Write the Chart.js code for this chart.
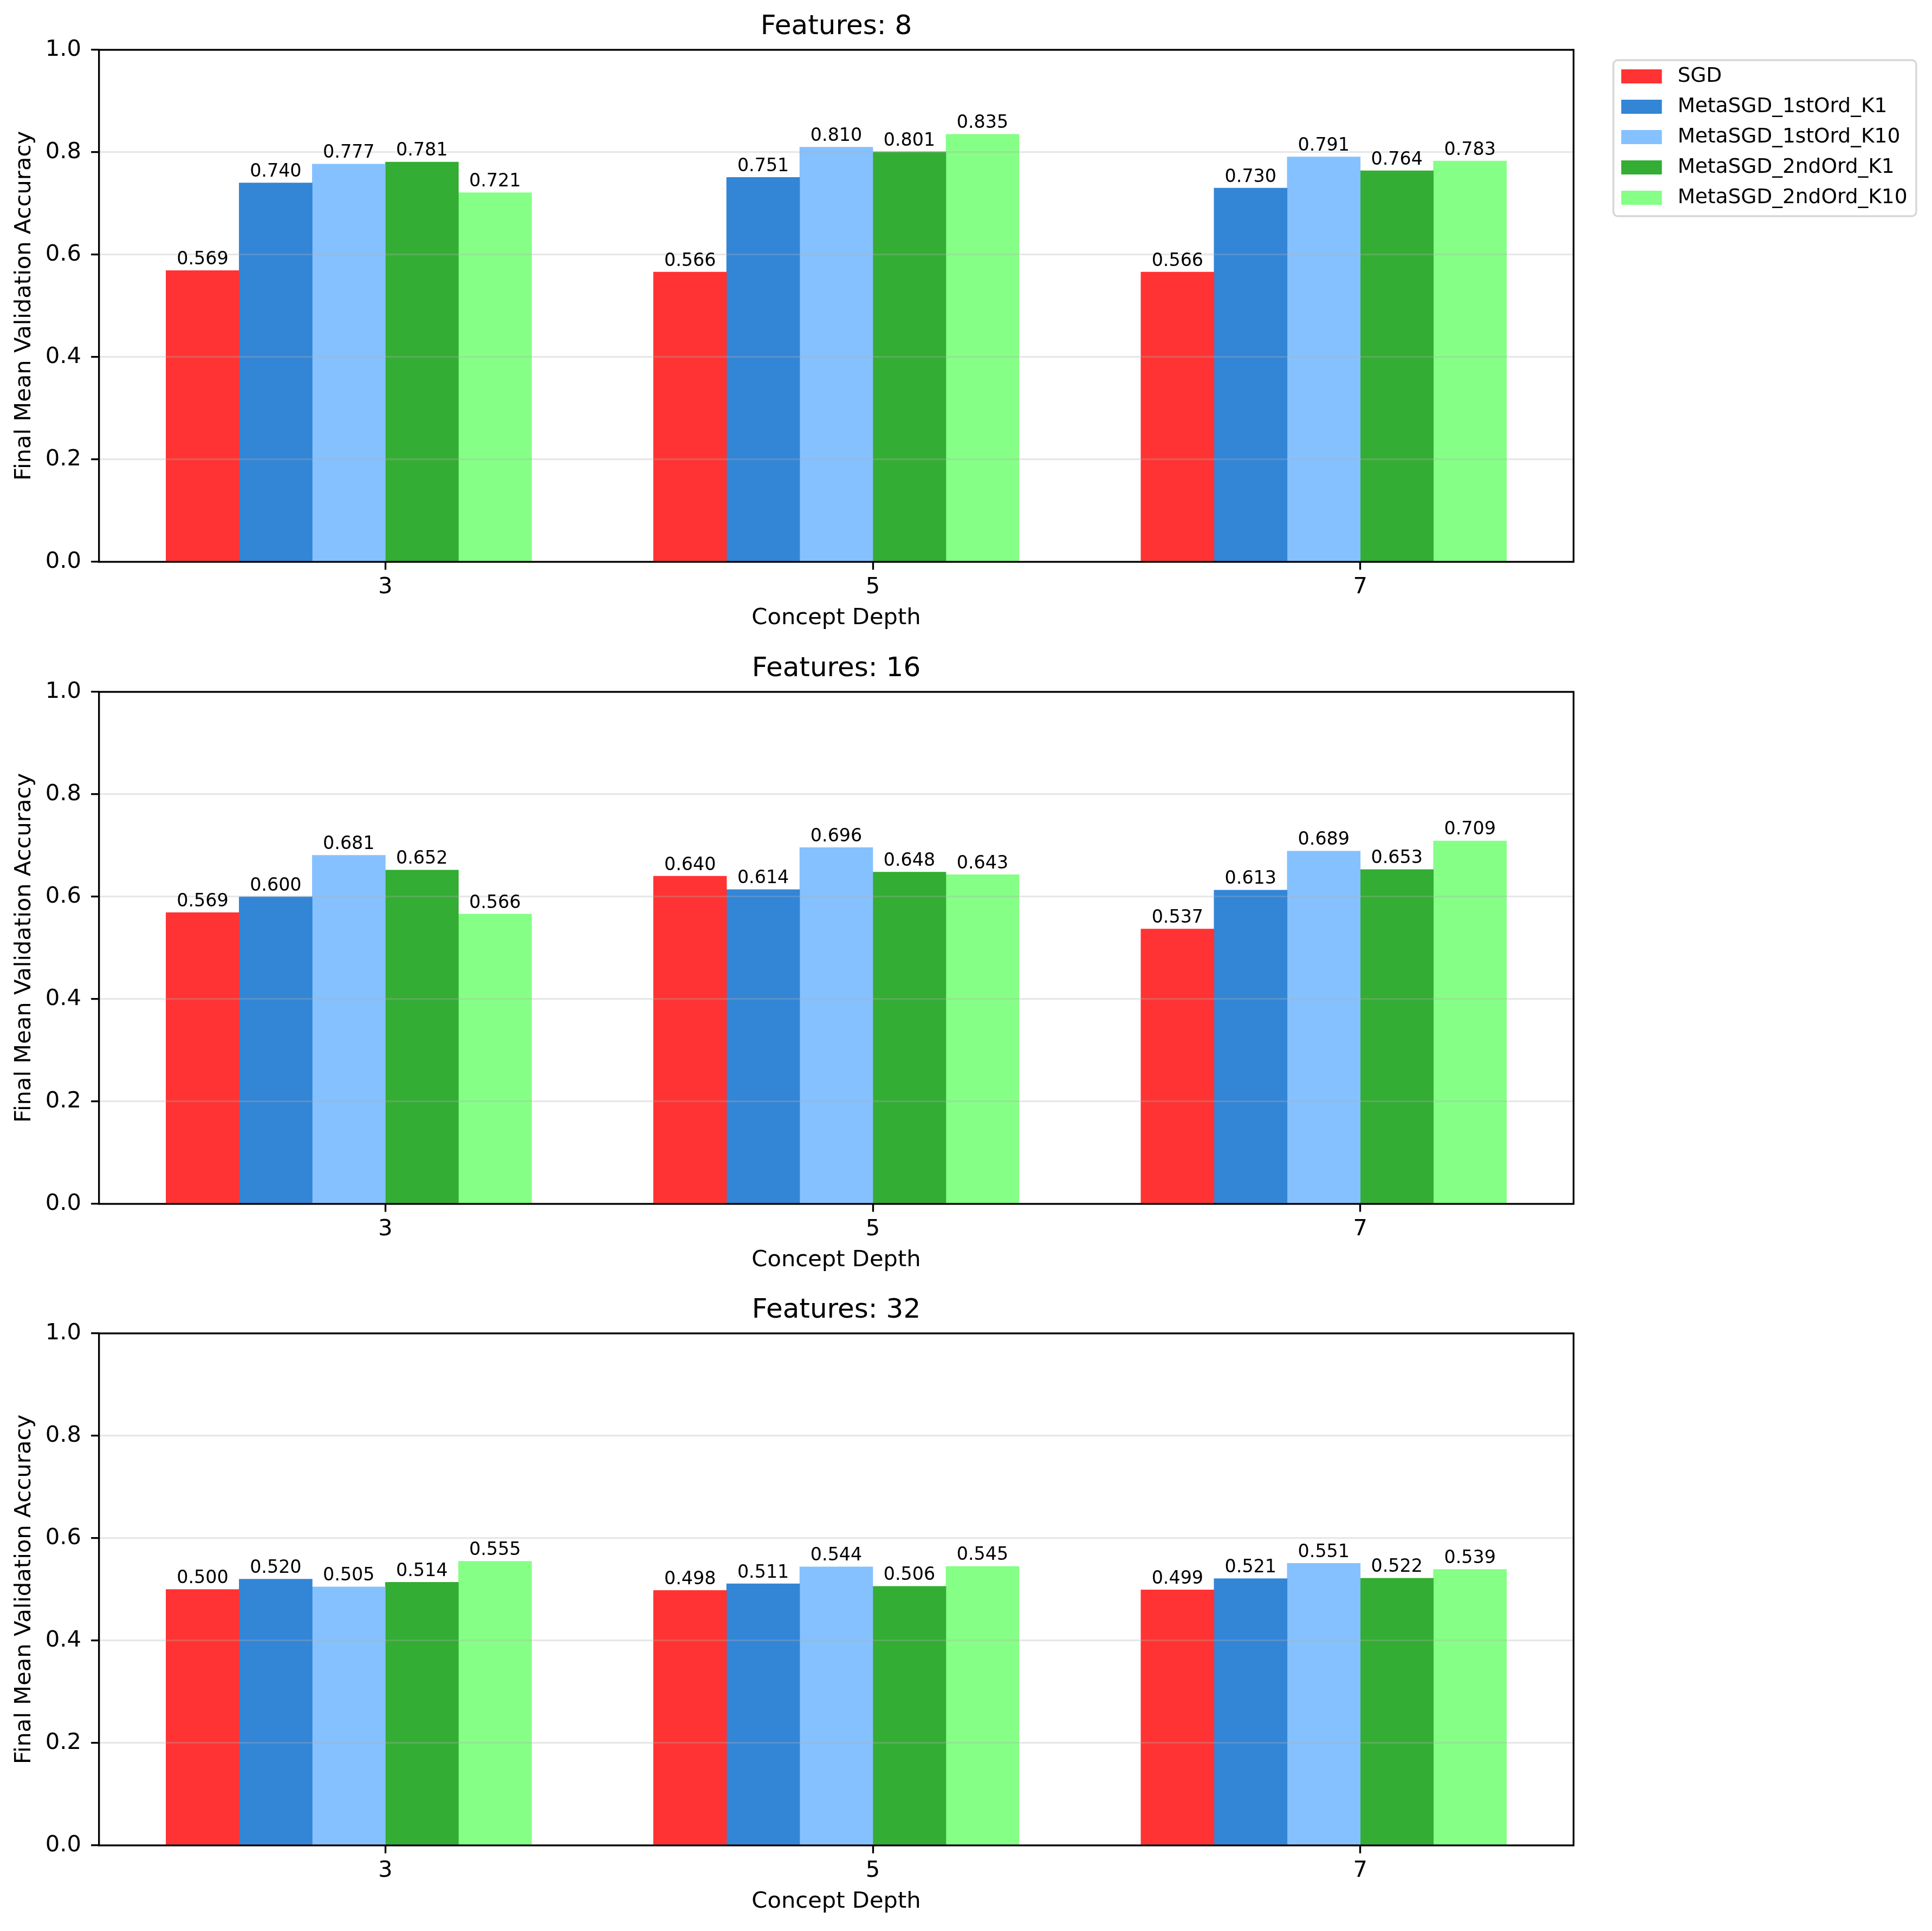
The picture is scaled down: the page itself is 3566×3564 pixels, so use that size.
<!DOCTYPE html>
<html>
<head>
<meta charset="utf-8">
<script src="https://cdn.jsdelivr.net/npm/chart.js@4.4.1/dist/chart.umd.min.js"></script>
<style>
html,body{margin:0;padding:0;background:#fff;}
#wrap{position:relative;width:3566px;height:3564px;overflow:hidden;background:#fff;}
canvas{position:absolute;left:0;}
</style>
</head>
<body>
<div id="wrap">
<canvas id="c0"></canvas>
<canvas id="c1"></canvas>
<canvas id="c2"></canvas>
</div>
<script>
// ---------------- data ----------------
const depths = ['3', '5', '7'];
const featureTitles = ['Features: 8', 'Features: 16', 'Features: 32'];
const methods = ['SGD', 'MetaSGD_1stOrd_K1', 'MetaSGD_1stOrd_K10', 'MetaSGD_2ndOrd_K1', 'MetaSGD_2ndOrd_K10'];
const methodColors = ['#ff3333', '#3385d6', '#85c1ff', '#33ad33', '#85ff85'];
const yTickValues = [0, 0.2, 0.4, 0.6, 0.8, 1.0];

const f8_SGD      = [0.569, 0.566, 0.566];
const f8_1stK1    = [0.740, 0.751, 0.730];
const f8_1stK10   = [0.777, 0.810, 0.791];
const f8_2ndK1    = [0.781, 0.801, 0.764];
const f8_2ndK10   = [0.721, 0.835, 0.783];

const f16_SGD     = [0.569, 0.640, 0.537];
const f16_1stK1   = [0.600, 0.614, 0.613];
const f16_1stK10  = [0.681, 0.696, 0.689];
const f16_2ndK1   = [0.652, 0.648, 0.653];
const f16_2ndK10  = [0.566, 0.643, 0.709];

const f32_SGD     = [0.500, 0.498, 0.499];
const f32_1stK1   = [0.520, 0.511, 0.521];
const f32_1stK10  = [0.505, 0.544, 0.551];
const f32_2ndK1   = [0.514, 0.506, 0.522];
const f32_2ndK10  = [0.555, 0.545, 0.539];

const panelSeries = [
  [f8_SGD, f8_1stK1, f8_1stK10, f8_2ndK1, f8_2ndK10],
  [f16_SGD, f16_1stK1, f16_1stK10, f16_2ndK1, f16_2ndK10],
  [f32_SGD, f32_1stK1, f32_1stK10, f32_2ndK1, f32_2ndK10]
];

// ---------------- style / layout ----------------
const FONT = '"DejaVu Sans", "Liberation Sans", sans-serif';
const BAR_W = 0.15;                 // bar width in category units
const X_MIN = -0.5875, X_MAX = 2.4375;
const canvasTops = [0, 1185, 2369];
const canvasHeights = [1185, 1184, 1195];
const PT = 300 / 72;

Chart.defaults.font.family = FONT;
Chart.defaults.color = '#000';

const overlayPlugin = {
  id: 'overlay',
  afterDraw(chart) {
    const ctx = chart.ctx, a = chart.chartArea;
    ctx.save();
    ctx.font = (8 * PT).toFixed(2) + 'px ' + FONT;
    ctx.fillStyle = '#000';
    ctx.textAlign = 'center';
    ctx.textBaseline = 'alphabetic';
    chart.data.datasets.forEach((ds, di) => {
      const meta = chart.getDatasetMeta(di);
      meta.data.forEach((bar, j) => {
        ctx.fillText(ds.data[j].y.toFixed(3), bar.x, bar.y - 11.5);
      });
    });
    ctx.strokeStyle = '#000';
    ctx.lineWidth = 0.8 * PT;
    ctx.lineJoin = 'miter';
    ctx.strokeRect(a.left, a.top, a.right - a.left, a.bottom - a.top);
    ctx.restore();
  }
};

const legendPlugin = {
  id: 'sideLegend',
  afterDraw(chart) {
    const ctx = chart.ctx, a = chart.chartArea;
    const bx = a.right + 73.5, by = a.top + 19, bw = 559, bh = 288;
    ctx.save();
    ctx.beginPath();
    ctx.roundRect(bx, by, bw, bh, 8);
    ctx.fillStyle = 'rgba(255,255,255,0.8)';
    ctx.fill();
    ctx.lineWidth = 0.8 * PT;
    ctx.strokeStyle = 'rgb(214,214,214)';
    ctx.stroke();
    ctx.font = (9 * PT).toFixed(2) + 'px ' + FONT;
    ctx.textBaseline = 'middle';
    ctx.textAlign = 'left';
    chart.data.datasets.forEach((ds, i) => {
      const cy = by + 30 + i * 56;
      ctx.fillStyle = ds.backgroundColor;
      ctx.fillRect(bx + 14.5, cy - 13, 75, 26);
      ctx.fillStyle = '#000';
      ctx.fillText(ds.label, bx + 118.5, cy);
    });
    ctx.restore();
  }
};

function makeChart(p) {
  const cv = document.getElementById('c' + p);
  cv.width = 3566; cv.height = canvasHeights[p];
  cv.style.width = '3566px'; cv.style.height = canvasHeights[p] + 'px';
  cv.style.top = canvasTops[p] + 'px';
  const chartAreaBottom = 92 + 945;
  const xScaleH = 129.2;
  const padBottom = canvasHeights[p] - chartAreaBottom - xScaleH;

  const datasets = methods.map((m, i) => ({
    label: m,
    backgroundColor: methodColors[i],
    borderWidth: 0,
    grouped: false,
    categoryPercentage: 1.0,
    barPercentage: 1.0,
    data: panelSeries[p][i].map((v, j) => ({ x: j + (i - 2.5) * BAR_W, y: v }))
  }));

  const plugins = [overlayPlugin];
  if (p === 0) plugins.push(legendPlugin);

  return new Chart(cv, {
    type: 'bar',
    data: { datasets },
    plugins,
    options: {
      responsive: false,
      animation: false,
      devicePixelRatio: 1,
      layout: { padding: { left: 0, right: 3566 - 2904.4, top: 0, bottom: padBottom } },
      plugins: {
        legend: { display: false },
        tooltip: { enabled: false },
        title: {
          display: true,
          text: featureTitles[p],
          fullSize: false,
          color: '#000',
          font: { size: 12 * PT, weight: 'normal', family: FONT, lineHeight: 1.2 },
          padding: { top: 20, bottom: 12 }
        }
      },
      scales: {
        x: {
          type: 'linear',
          offset: false,
          min: X_MIN,
          max: X_MAX,
          afterBuildTicks: (s) => { s.ticks = depths.map((d, i) => ({ value: i })); },
          afterFit: (s) => { s.height = xScaleH; },
          ticks: {
            autoSkip: false,
            padding: 8,
            color: '#000',
            font: { size: 10 * PT, family: FONT },
            callback: (v) => depths[Math.round(v)]
          },
          grid: {
            display: true,
            offset: false,
            drawOnChartArea: false,
            drawTicks: true,
            tickLength: 3.5 * PT,
            tickWidth: 0.8 * PT,
            tickColor: '#000'
          },
          border: { display: false },
          title: {
            display: true,
            text: 'Concept Depth',
            color: '#000',
            font: { size: 10 * PT, family: FONT, lineHeight: 1.2 },
            padding: 0
          }
        },
        y: {
          type: 'linear',
          min: 0,
          max: 1,
          afterBuildTicks: (s) => { s.ticks = yTickValues.map(v => ({ value: v })); },
          afterFit: (s) => { s.width = 182.7; },
          ticks: {
            padding: 18,
            color: '#000',
            font: { size: 10 * PT, family: FONT },
            callback: (v) => Number(v).toFixed(1)
          },
          grid: {
            display: true,
            z: 1,
            color: 'rgba(176,176,176,0.3)',
            lineWidth: 0.8 * PT,
            drawTicks: true,
            tickLength: 3.5 * PT,
            tickWidth: 0.8 * PT,
            tickColor: '#000'
          },
          border: { display: false },
          title: {
            display: true,
            text: 'Final Mean Validation Accuracy',
            color: '#000',
            font: { size: 10 * PT, family: FONT, lineHeight: 1.2 },
            padding: { top: 20.5, bottom: 0 }
          }
        }
      }
    }
  });
}

[0, 1, 2].forEach(makeChart);
</script>
</body>
</html>
